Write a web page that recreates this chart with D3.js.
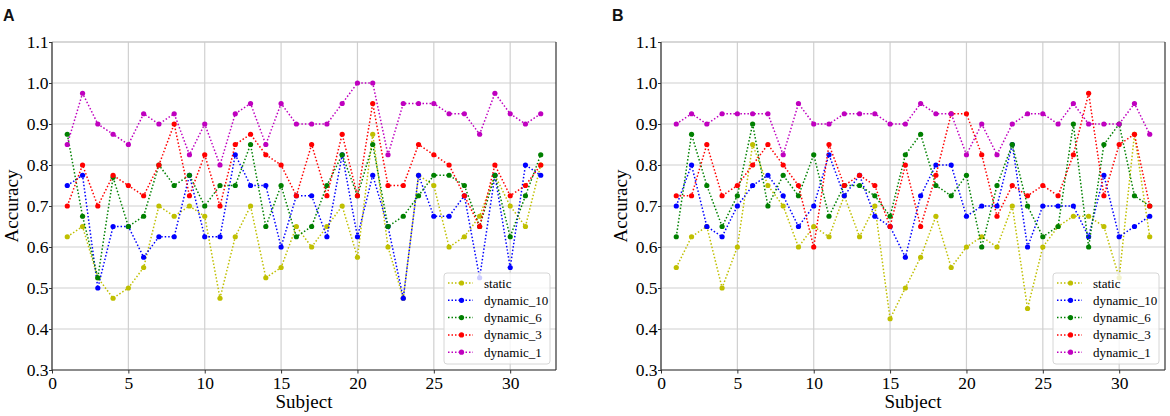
<!DOCTYPE html>
<html>
<head>
<meta charset="utf-8">
<script src="https://cdn.jsdelivr.net/npm/d3@7"></script>
<style>
    body { margin: 0; background: #fff; }
    svg { display: block; }
</style>
</head>
<body>
<div id="chart"></div>
<script>
// subjects and series
var subjects = [1, 2, 3, 4, 5, 6, 7, 8, 9, 10, 11, 12, 13, 14, 15, 16,
    17, 18, 19, 20, 21, 22, 23, 24, 25, 26, 27, 28, 29, 30, 31, 32];
var seriesNames = ['static', 'dynamic_10', 'dynamic_6', 'dynamic_3', 'dynamic_1'];
var seriesColors = ['#bfbf00', '#0000ff', '#008000', '#ff0000', '#bf00bf'];
var xTicks = [0, 5, 10, 15, 20, 25, 30];
var yTicks = [0.3, 0.4, 0.5, 0.6, 0.7, 0.8, 0.9, 1.0, 1.1];

// panel A
var staticA = [0.625, 0.65, 0.525, 0.475, 0.5, 0.55, 0.7, 0.675, 0.7, 0.675, 0.475, 0.625, 0.7, 0.525, 0.55, 0.65,
    0.6, 0.65, 0.7, 0.575, 0.875, 0.6, 0.475, 0.775, 0.75, 0.6, 0.625, 0.675, 0.775, 0.7, 0.65, 0.8];
var dyn10A = [0.75, 0.775, 0.5, 0.65, 0.65, 0.575, 0.625, 0.625, 0.775, 0.625, 0.625, 0.825, 0.75, 0.75, 0.6, 0.725,
    0.725, 0.625, 0.825, 0.625, 0.775, 0.65, 0.475, 0.775, 0.675, 0.675, 0.725, 0.525, 0.775, 0.55, 0.8, 0.775];
var dyn6A = [0.875, 0.675, 0.525, 0.77, 0.65, 0.675, 0.8, 0.75, 0.775, 0.7, 0.75, 0.75, 0.85, 0.65, 0.75, 0.625,
    0.65, 0.75, 0.825, 0.725, 0.85, 0.65, 0.675, 0.725, 0.775, 0.775, 0.75, 0.65, 0.775, 0.625, 0.725, 0.825];
var dyn3A = [0.7, 0.8, 0.7, 0.775, 0.75, 0.725, 0.8, 0.9, 0.725, 0.825, 0.7, 0.85, 0.875, 0.825, 0.8, 0.725,
    0.85, 0.725, 0.875, 0.725, 0.95, 0.75, 0.75, 0.85, 0.825, 0.8, 0.725, 0.65, 0.8, 0.725, 0.75, 0.8];
var dyn1A = [0.85, 0.975, 0.9, 0.875, 0.85, 0.925, 0.9, 0.925, 0.825, 0.9, 0.8, 0.925, 0.95, 0.85, 0.95, 0.9,
    0.9, 0.9, 0.95, 1.0, 1.0, 0.825, 0.95, 0.95, 0.95, 0.925, 0.925, 0.875, 0.975, 0.925, 0.9, 0.925];

// panel B
var staticB = [0.55, 0.625, 0.65, 0.5, 0.6, 0.85, 0.75, 0.7, 0.6, 0.65, 0.625, 0.725, 0.625, 0.7, 0.425, 0.5,
    0.575, 0.675, 0.55, 0.6, 0.625, 0.6, 0.7, 0.45, 0.6, 0.65, 0.675, 0.675, 0.65, 0.525, 0.875, 0.625];
var dyn10B = [0.7, 0.8, 0.65, 0.625, 0.7, 0.75, 0.775, 0.725, 0.65, 0.7, 0.825, 0.725, 0.775, 0.675, 0.65, 0.575,
    0.725, 0.8, 0.8, 0.675, 0.7, 0.7, 0.85, 0.6, 0.7, 0.7, 0.7, 0.625, 0.775, 0.625, 0.65, 0.675];
var dyn6B = [0.625, 0.875, 0.75, 0.65, 0.725, 0.9, 0.7, 0.775, 0.725, 0.825, 0.675, 0.75, 0.75, 0.725, 0.675, 0.825,
    0.875, 0.75, 0.725, 0.775, 0.6, 0.75, 0.85, 0.7, 0.625, 0.65, 0.9, 0.6, 0.85, 0.9, 0.725, 0.7];
var dyn3B = [0.725, 0.725, 0.85, 0.725, 0.75, 0.8, 0.85, 0.8, 0.75, 0.6, 0.85, 0.75, 0.775, 0.75, 0.65, 0.8,
    0.65, 0.775, 0.925, 0.925, 0.825, 0.675, 0.75, 0.725, 0.75, 0.725, 0.825, 0.975, 0.725, 0.85, 0.875, 0.7];
var dyn1B = [0.9, 0.925, 0.9, 0.925, 0.925, 0.925, 0.925, 0.825, 0.95, 0.9, 0.9, 0.925, 0.925, 0.925, 0.9, 0.9,
    0.95, 0.925, 0.925, 0.825, 0.9, 0.825, 0.9, 0.925, 0.925, 0.9, 0.95, 0.9, 0.9, 0.9, 0.95, 0.875];

var serif = '"Liberation Serif", "Times New Roman", serif';
var totalWidth = 1170;
var totalHeight = 416;

var svg = d3.select('#chart')
    .append('svg')
    .attr('width', totalWidth)
    .attr('height', totalHeight);

function drawPanel(left, label, series) {
    var width = 504;
    var height = 328;
    var top = 42;

    var x = d3.scaleLinear().domain([0, 33]).range([0, width]);
    var y = d3.scaleLinear().domain([0.3, 1.1]).range([height, 0]);

    var g = svg.append('g')
        .attr('transform', 'translate(' + left + ',' + top + ')');

    // grid
    g.append('g')
        .selectAll('line')
        .data(xTicks)
        .enter()
        .append('line')
        .attr('x1', d => x(d)).attr('x2', d => x(d))
        .attr('y1', 0).attr('y2', height)
        .attr('stroke', '#d0d0d0')
        .attr('stroke-width', 1.2);

    g.append('g')
        .selectAll('line')
        .data(yTicks)
        .enter()
        .append('line')
        .attr('x1', 0).attr('x2', width)
        .attr('y1', d => y(d)).attr('y2', d => y(d))
        .attr('stroke', '#d0d0d0')
        .attr('stroke-width', 1.2);

    // axes
    var xAxis = d3.axisBottom(x).tickValues(xTicks).tickSize(3.5).tickPadding(3).tickFormat(d3.format('d'));
    var yAxis = d3.axisLeft(y).tickValues(yTicks).tickSize(3).tickPadding(0.5).tickFormat(d3.format('.1f'));

    [[xAxis, 'translate(0,' + height + ')'], [yAxis, null]].forEach(function (a) {
        var ag = g.append('g').attr('transform', a[1]).call(a[0]);
        ag.select('.domain').remove();
        ag.selectAll('.tick line').attr('stroke', '#333');
        ag.selectAll('.tick text')
            .style('font-family', serif)
            .style('font-size', '17.5px')
            .style('fill', '#000');
    });

    // spines
    g.append('line').attr('x1', 0).attr('x2', width).attr('y1', 0).attr('y2', 0)
        .attr('stroke', '#c8c8c8').attr('stroke-width', 1.2);
    g.append('line').attr('x1', 0).attr('x2', 0).attr('y1', 0).attr('y2', height)
        .attr('stroke', '#333').attr('stroke-width', 1.2);
    g.append('line').attr('x1', width).attr('x2', width).attr('y1', 0).attr('y2', height)
        .attr('stroke', '#333').attr('stroke-width', 1.2);
    g.append('line').attr('x1', 0).attr('x2', width).attr('y1', height).attr('y2', height)
        .attr('stroke', '#333').attr('stroke-width', 1.2);

    // series
    var line = d3.line()
        .x((d, i) => x(subjects[i]))
        .y(d => y(d));

    series.forEach(function (values, k) {
        var sg = g.append('g');
        sg.append('path')
            .datum(values)
            .attr('d', line)
            .attr('fill', 'none')
            .attr('stroke', seriesColors[k])
            .attr('stroke-width', 1.5)
            .attr('stroke-dasharray', '1.5,2');
        sg.selectAll('circle')
            .data(values)
            .enter()
            .append('circle')
            .attr('cx', (d, i) => x(subjects[i]))
            .attr('cy', d => y(d))
            .attr('r', 2.6)
            .attr('fill', seriesColors[k]);
    });

    // axis labels
    g.append('text')
        .style('font-family', serif)
        .style('font-size', '19px')
        .style('fill', '#000')
        .attr('text-anchor', 'middle')
        .attr('x', width / 2)
        .attr('y', height + 38)
        .text('Subject');

    g.append('text')
        .style('font-family', serif)
        .style('font-size', '19px')
        .style('fill', '#000')
        .attr('text-anchor', 'middle')
        .attr('transform', 'rotate(-90)')
        .attr('x', -height / 2)
        .attr('y', -34)
        .text('Accuracy');

    // legend
    var lg = g.append('g')
        .attr('transform', 'translate(' + (width - 112) + ',' + (height - 97) + ')');

    lg.append('rect')
        .attr('width', 106)
        .attr('height', 91)
        .attr('rx', 3)
        .attr('fill', '#fff')
        .attr('fill-opacity', 0.8)
        .attr('stroke', '#d6d6d6')
        .attr('stroke-width', 1);

    seriesNames.forEach(function (name, k) {
        var row = lg.append('g').attr('transform', 'translate(0,' + (10 + k * 17.3) + ')');
        row.append('line')
            .attr('x1', 4).attr('x2', 29)
            .attr('stroke', seriesColors[k])
            .attr('stroke-width', 1.5)
            .attr('stroke-dasharray', '1.5,2');
        row.append('circle')
            .attr('cx', 17.5)
            .attr('r', 2.6)
            .attr('fill', seriesColors[k]);
        row.append('text')
            .style('font-family', serif)
            .style('font-size', '13px')
            .style('fill', '#000')
            .attr('x', 40)
            .attr('dy', '0.35em')
            .text(name);
    });

    // panel letter
    svg.append('text')
        .style('font-family', '"Liberation Sans", Arial, sans-serif')
        .style('font-size', '16px')
        .style('font-weight', 'bold')
        .style('fill', '#111')
        .attr('x', left - 49)
        .attr('y', 21)
        .text(label);
}

drawPanel(52, 'A', [staticA, dyn10A, dyn6A, dyn3A, dyn1A]);
drawPanel(661, 'B', [staticB, dyn10B, dyn6B, dyn3B, dyn1B]);
</script>
</body>
</html>
